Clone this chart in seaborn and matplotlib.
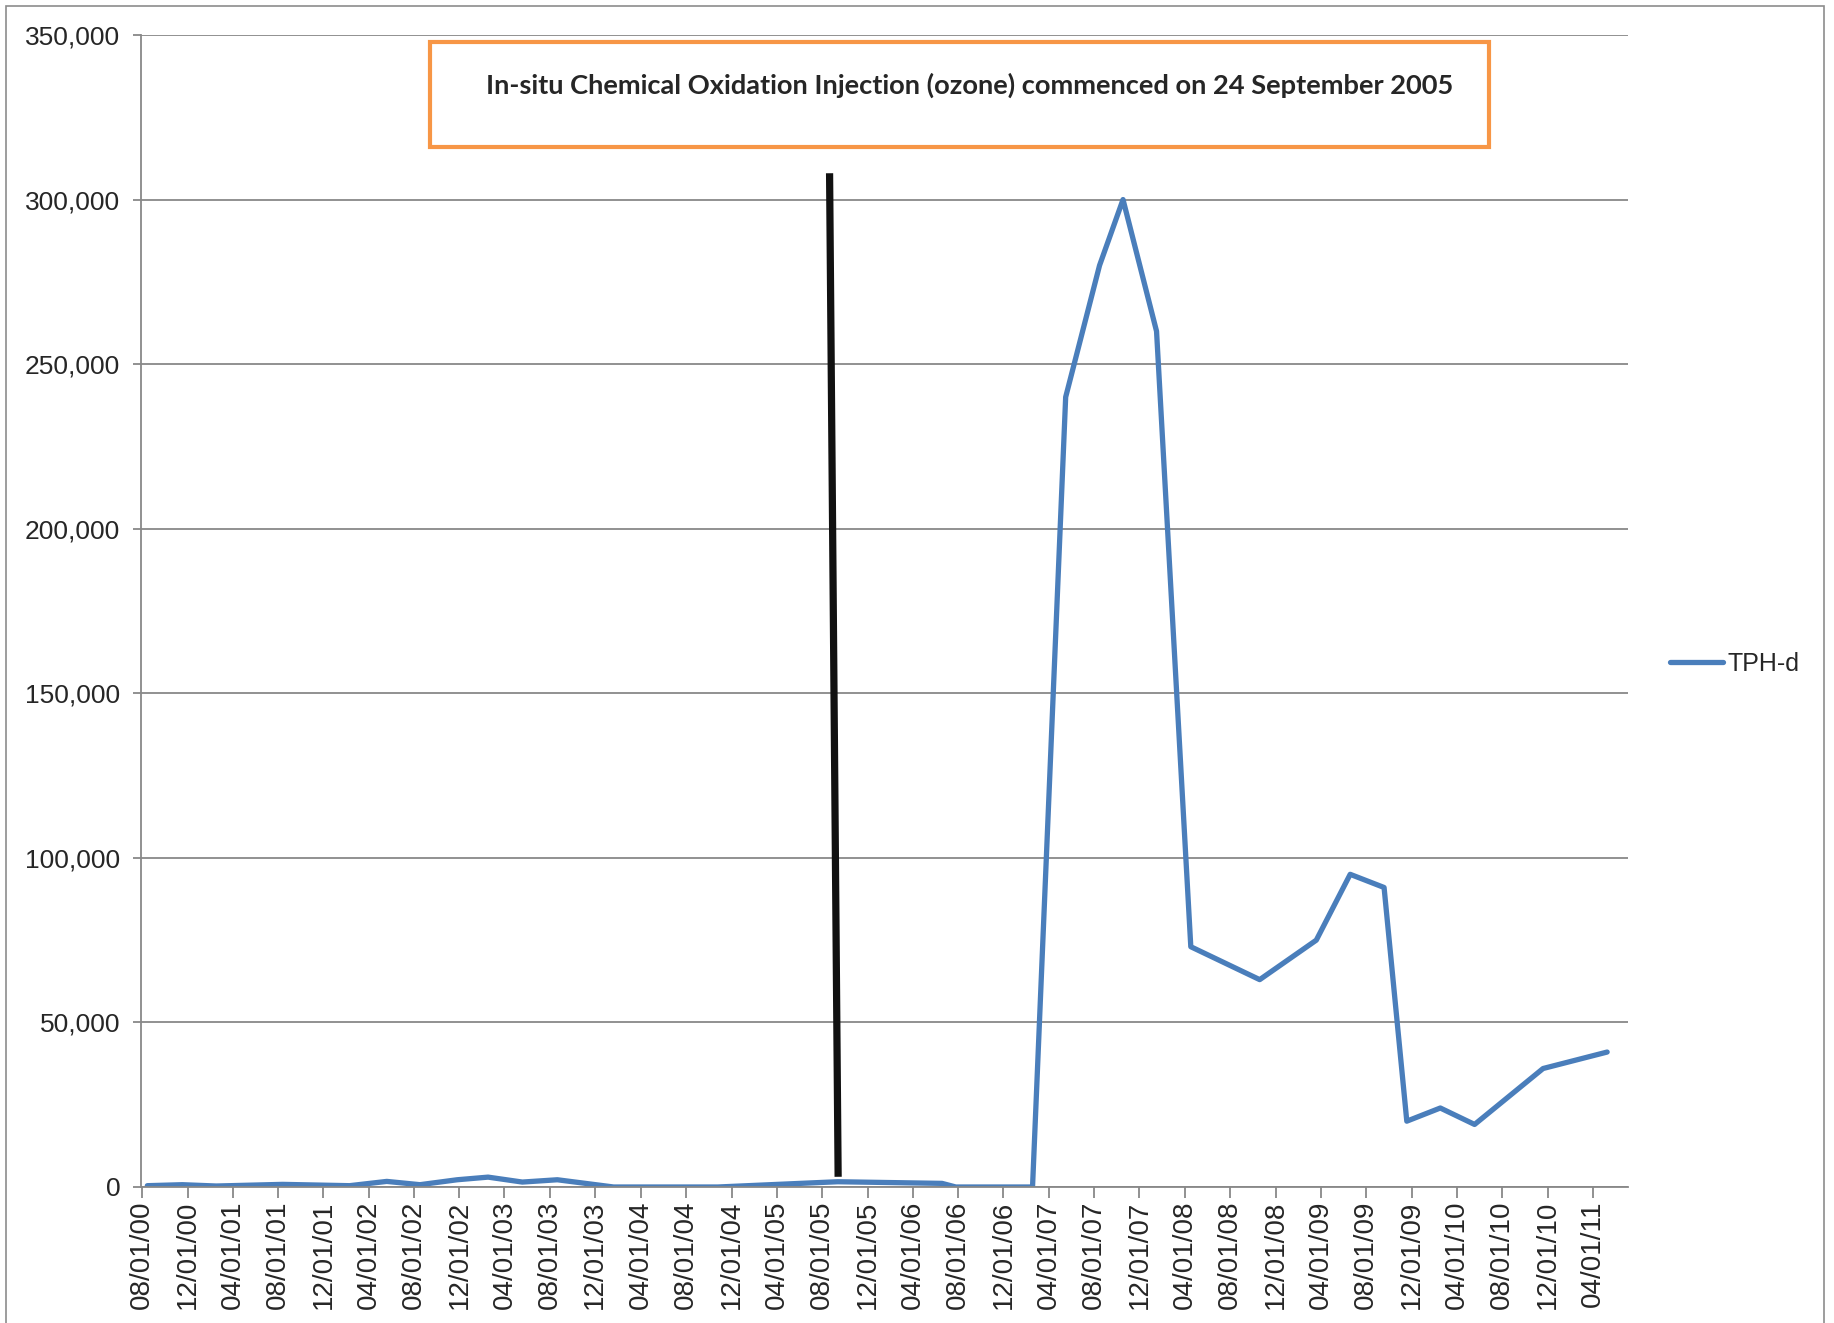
import pandas as pd
import matplotlib
matplotlib.use("Agg")
import matplotlib.pyplot as plt
import matplotlib.dates as mdates
from matplotlib.patches import Rectangle
from matplotlib.ticker import FuncFormatter
import seaborn as sns

# sampling dates and TPH-d results
sample_dates = ["2000-08-15", "2000-11-17", "2001-02-16", "2001-08-13", "2002-02-09",
                "2002-05-20", "2002-08-17", "2002-11-25", "2003-02-16", "2003-05-19",
                "2003-08-21", "2004-01-19", "2004-10-25", "2005-09-12", "2006-06-19",
                "2006-07-26", "2007-02-17", "2007-05-17", "2007-08-16", "2007-10-18",
                "2008-01-16", "2008-04-17", "2008-10-19", "2009-03-20", "2009-06-19",
                "2009-09-18", "2009-11-18", "2010-02-16", "2010-05-19", "2010-11-19",
                "2011-05-10"]
tph_d = [400, 700, 300, 800, 400,
         1700, 700, 2200, 3000, 1500,
         2200, 0, 0, 1600, 1100,
         0, 0, 240000, 280000, 300000,
         260000, 73000, 63000, 75000, 95000,
         91000, 20000, 24000, 19000, 36000,
         41000]

# hand drawn marker line for the start of the injection
injection_dates = ["2005-08-21", "2005-09-13"]
injection_values = [308000, 3100]

y_ticks = list(range(0, 350001, 50000))
x_limits = ["2000-07-29", "2011-07-05"]
series_name = "TPH-d"
box_text = "In-situ Chemical Oxidation Injection (ozone) commenced on 24 September 2005"

df = pd.DataFrame({"date": pd.to_datetime(sample_dates), series_name: tph_d})

sns.set_style("white")
plt.rcParams["font.family"] = ["Liberation Sans", "DejaVu Sans"]

W, H = 1834, 1323
fig = plt.figure(figsize=(W / 100, H / 100), dpi=100)
ax = fig.add_axes([141 / W, (H - 1187) / H, (1628 - 141) / W, (1187 - 35) / H])

sns.lineplot(data=df, x="date", y=series_name, color="#4A7EBB", linewidth=3.8,
             label=series_name, ax=ax, solid_capstyle="round", solid_joinstyle="round")

ax.plot(pd.to_datetime(injection_dates), injection_values, color="#111111",
        linewidth=5.2, solid_capstyle="butt", label="_nolegend_")

# axes styling
ax.set_ylim(0, 350000)
ax.set_yticks(y_ticks)
ax.yaxis.set_major_formatter(FuncFormatter(lambda v, p: f"{int(v):,}"))
ax.set_xlim(pd.to_datetime(x_limits[0]), pd.to_datetime(x_limits[1]))
ax.xaxis.set_major_locator(mdates.MonthLocator(bymonth=(4, 8, 12)))
ax.xaxis.set_major_formatter(mdates.DateFormatter("%m/%d/%y"))
ax.set_xlabel("")
ax.set_ylabel("")

ax.yaxis.grid(True, color="#888888", linewidth=1.3)
ax.xaxis.grid(False)
ax.set_axisbelow(True)
for side in ["top", "right"]:
    ax.spines[side].set_visible(False)
for side in ["left", "bottom"]:
    ax.spines[side].set_color("#888888")
    ax.spines[side].set_linewidth(1.3)

ax.tick_params(axis="y", length=6, width=1.3, color="#888888", pad=9, labelsize=19,
               left=True)
ax.tick_params(axis="x", length=8, width=1.3, color="#888888", pad=2, labelsize=20,
               labelrotation=90, bottom=True)

ax.legend(loc="center left", bbox_to_anchor=((1670 - 141) / (1628 - 141), (1187 - 664) / 1152),
          frameon=False, fontsize=18, handlelength=2.1, handletextpad=0.2,
          borderpad=0, borderaxespad=0)

# annotation box
fig.patches.append(Rectangle((430 / W, 1 - 147 / H), 1059 / W, 105 / H,
                             transform=fig.transFigure, facecolor="white",
                             edgecolor="#F79646", linewidth=3, zorder=5))
fig.text(970 / W, 1 - 85 / H, box_text, ha="center", va="center", fontsize=19.6,
         fontweight="bold", family=["Lato", "DejaVu Sans"], zorder=6)

# thin border round the chart area
fig.patches.append(Rectangle((6 / W, -0.01), (1824 - 6) / W, 1 - 6 / H + 0.01,
                             transform=fig.transFigure, fill=False,
                             edgecolor="#8c8c8c", linewidth=1.2))

fig.savefig("out.png", dpi=100)
